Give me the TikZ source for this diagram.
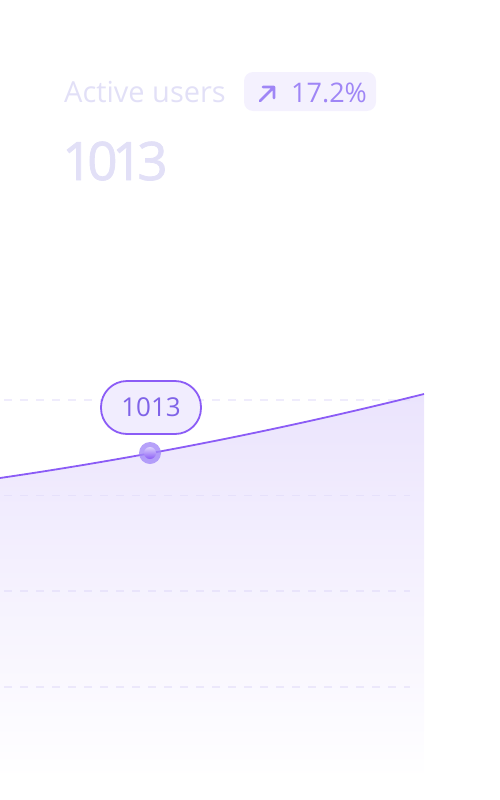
\documentclass[tikz,border=0pt]{standalone}
\usepackage{fontspec}
\setmainfont{Open Sans}
\usepackage{tikz}
\usetikzlibrary{positioning}

\definecolor{faint}{HTML}{E2E0F7}
\definecolor{badgebg}{HTML}{F4F1FE}
\definecolor{badgefg}{HTML}{9F86F6}
\definecolor{gridc}{HTML}{DCD5F8}
\definecolor{linec}{HTML}{8B5CF6}
\definecolor{areatop}{HTML}{EBE4FD}
\definecolor{pillbg}{HTML}{F1EDFE}
\definecolor{pillfg}{HTML}{7F63E8}
\definecolor{dotc}{HTML}{A48AF8}

\begin{document}
\begin{tikzpicture}[x=1pt, y=-1pt,
 grid/.style={gridc, opacity=.45, line width=1.6pt, dash pattern=on 8pt off 8pt},
 pill/.style={draw=linec, line width=1.8pt, fill=pillbg, rounded corners=26pt,
  minimum width=100pt, minimum height=53pt, text=pillfg, font=\fontsize{26}{26}\selectfont}]

\useasboundingbox (0,0) rectangle (500,800);

% header
\node[anchor=base west, inner sep=0, text=faint, font=\fontsize{29}{29}\selectfont]
 (title) at (64,102) {Active users};
\path[fill=badgebg, rounded corners=9pt] (244,72) rectangle (376,111);
\node[anchor=base west, inner sep=0, text=badgefg, font=\fontsize{27}{27}\selectfont]
 (change) at (291,102) {17.2\%};
\draw[badgefg, line width=2.6pt, line cap=round, line join=round]
 (260,101) -- (274,87) (263,87) -- (274,87) -- (274,98);
\node[anchor=base west, inner sep=0, text=faint,
 font=\fontsize{53}{53}\selectfont\addfontfeature{LetterSpace=-10, FakeBold=1.5}]
 (total) at (62,180) {1013};

% area under the curve
\shade[top color=areatop, bottom color=white]
 (0,478) .. controls (141.3,457.3) and (282.7,429.3) .. (424,394) -- (424,780) -- (0,780) -- cycle;

% grid
\foreach \y in {400, 495.5, 591, 687}
 {
 \draw[grid] (4,\y) -- (410,\y);
 }

% curve
\draw[linec, line width=1.8pt]
 (0,478) .. controls (141.3,457.3) and (282.7,429.3) .. (424,394);

% point and label
\node[circle, fill=dotc, opacity=.8, minimum size=22pt, inner sep=0] (pt) at (150,453) {};
\shade[top color=dotc!40, bottom color=linec] (pt.center) circle[radius=6pt];
\node[pill] (value) at (151,407.5) {1013};

\end{tikzpicture}
\end{document}
